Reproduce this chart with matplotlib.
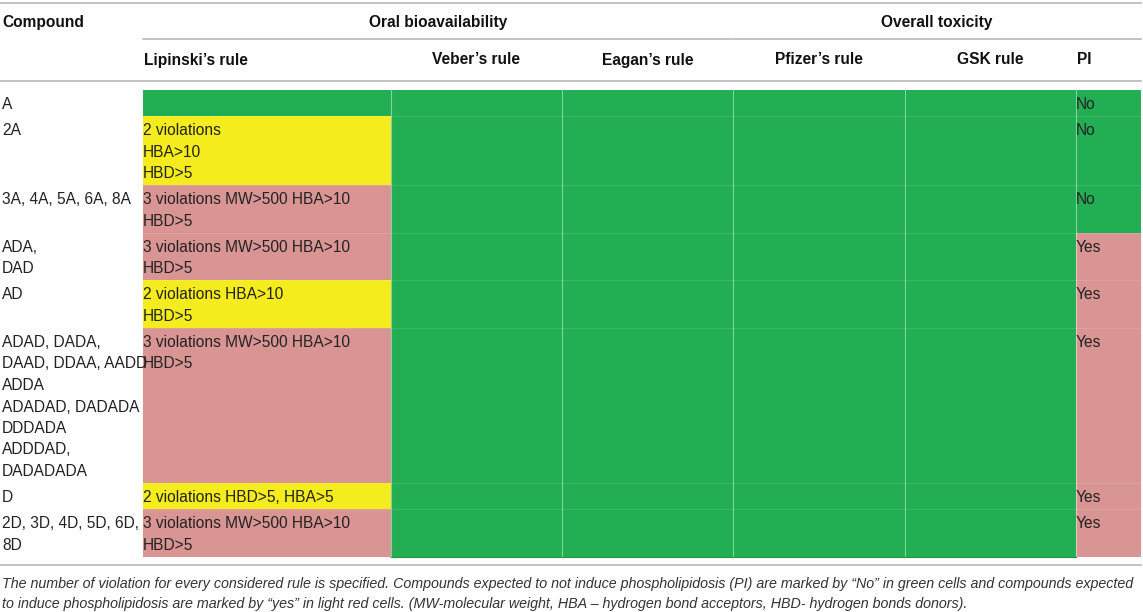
import matplotlib.pyplot as plt
from matplotlib.patches import Rectangle

# table content
compounds = ["A", "2A", "3A, 4A, 5A, 6A, 8A", "ADA,\nDAD", "AD",
             "ADAD, DADA,\nDAAD, DDAA, AADD\nADDA\nADADAD, DADADA\nDDDADA\nADDDAD,\nDADADADA",
             "D", "2D, 3D, 4D, 5D, 6D,\n8D"]
lipinski = ["", "2 violations\nHBA>10\nHBD>5",
            "3 violations MW>500 HBA>10\nHBD>5",
            "3 violations MW>500 HBA>10\nHBD>5",
            "2 violations HBA>10\nHBD>5",
            "3 violations MW>500 HBA>10\nHBD>5",
            "2 violations HBD>5, HBA>5",
            "3 violations MW>500 HBA>10\nHBD>5"]
lipinski_status = ["pass", "warn", "fail", "fail", "warn", "fail", "warn", "fail"]
veber_status = ["pass"] * 8
eagan_status = ["pass"] * 8
pfizer_status = ["pass"] * 8
gsk_status = ["pass"] * 8
pi = ["No", "No", "No", "Yes", "Yes", "Yes", "Yes", "Yes"]

col_headers = ["Lipinski\u2019s rule", "Veber\u2019s rule", "Eagan\u2019s rule",
               "Pfizer\u2019s rule", "GSK rule", "PI"]
group_headers = ["Oral bioavailability", "Overall toxicity"]
caption = ["The number of violation for every considered rule is specified. Compounds expected to not induce phospholipidosis (PI) are marked by \u201cNo\u201d in green cells and compounds expected",
           "to induce phospholipidosis are marked by \u201cyes\u201d in light red cells. (MW-molecular weight, HBA \u2013 hydrogen bond acceptors, HBD- hydrogen bonds donors)."]

colors = {"pass": "#22ae52", "warn": "#f4ec1c", "fail": "#d99594"}
pi_colors = {"No": "#22ae52", "Yes": "#d99594"}

W, H = 1143, 612
plt.rcParams['font.family'] = ['Liberation Sans', 'DejaVu Sans']
fig = plt.figure(figsize=(W / 100, H / 100), dpi=100)
ax = fig.add_axes([0, 0, 1, 1])
ax.set_xlim(0, W)
ax.set_ylim(H, 0)
ax.axis('off')

fs = 11.2
fs_head = 11.2
fs_cap = 10.3
txt = '#222222'
head = '#111111'
rule = '#b8b8b8'
cols = [143, 391, 562, 733, 905, 1076, 1141]
line_h = 21.5
pad = 4.6
top0 = 90

# header
ax.plot([0, 1141], [3, 3], color=rule, lw=1.2)
ax.plot([143, 732], [39, 39], color=rule, lw=1.2)
ax.plot([734, 1141], [39, 39], color=rule, lw=1.2)
ax.plot([0, 1141], [81, 81], color=rule, lw=1.2)
ax.text(2, 27.5, "Compound", fontsize=fs_head, fontweight='bold', va='baseline', ha='left', color=head)
ax.text((cols[0] + cols[3]) / 2, 27.5, group_headers[0], fontsize=fs_head, fontweight='bold',
        va='baseline', ha='center', color=head)
ax.text((cols[3] + cols[6]) / 2, 27.5, group_headers[1], fontsize=fs_head, fontweight='bold',
        va='baseline', ha='center', color=head)
for i, h in enumerate(col_headers):
    if i in (0, 5):
        ax.text(cols[i] + 1, 64.5, h, fontsize=fs_head, fontweight='bold', va='baseline', ha='left', color=head)
    else:
        ax.text((cols[i] + cols[i + 1]) / 2, 64.5, h, fontsize=fs_head, fontweight='bold',
                va='baseline', ha='center', color=head)

# body
statuses = [lipinski_status, veber_status, eagan_status, pfizer_status, gsk_status]
top = top0
bounds = [top]
for r in range(len(compounds)):
    n = max(compounds[r].count("\n"), lipinski[r].count("\n")) + 1
    h = n * line_h + pad
    for c in range(5):
        ax.add_patch(Rectangle((cols[c], top), cols[c + 1] - cols[c], h,
                               facecolor=colors[statuses[c][r]], edgecolor='none'))
    ax.add_patch(Rectangle((cols[5], top), cols[6] - cols[5], h,
                           facecolor=pi_colors[pi[r]], edgecolor='none'))
    for i, s in enumerate(compounds[r].split("\n")):
        ax.text(2, top + 19 + i * line_h, s, fontsize=fs, va='baseline', ha='left', color=txt)
    if lipinski[r]:
        for i, s in enumerate(lipinski[r].split("\n")):
            ax.text(cols[0], top + 19 + i * line_h, s, fontsize=fs, va='baseline', ha='left', color=txt)
    ax.text(cols[5], top + 19, pi[r], fontsize=fs, va='baseline', ha='left', color=txt)
    top += h
    bounds.append(top)

# faint cell grid
for b in bounds[1:-1]:
    ax.plot([cols[0], cols[-1]], [b, b], color='white', alpha=0.12, lw=0.8)
for x in cols[1:-1]:
    ax.plot([x, x], [bounds[0], bounds[-1]], color='white', alpha=0.45, lw=0.8)
ax.plot([cols[1], cols[5]], [bounds[-1], bounds[-1]], color='#159a40', lw=0.8)

ax.plot([0, 1141], [bounds[-1] + 8, bounds[-1] + 8], color=rule, lw=1.2)
ax.text(2, bounds[-1] + 31, caption[0], fontsize=fs_cap, style='italic', va='baseline', ha='left', color='#333333')
ax.text(2, bounds[-1] + 51, caption[1], fontsize=fs_cap, style='italic', va='baseline', ha='left', color='#333333')

fig.savefig("out.png", dpi=100)
